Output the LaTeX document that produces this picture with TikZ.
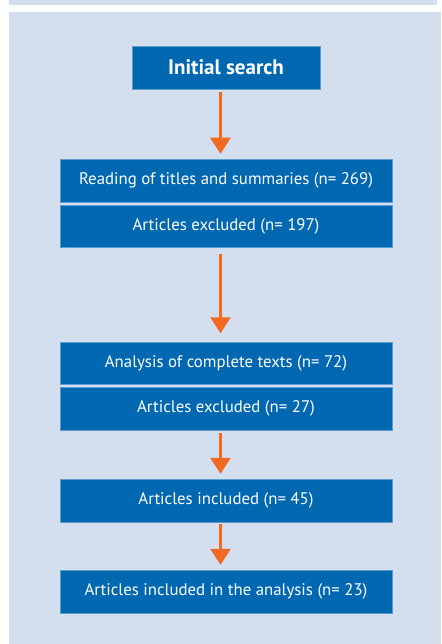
\documentclass[tikz,border=0pt]{standalone}
\usepackage{fontspec}
\setmainfont{PT Sans}
\usetikzlibrary{arrows.meta}
\definecolor{panel}{HTML}{D3DEEE}
\definecolor{boxblue}{HTML}{0067B1}
\definecolor{boxedge}{HTML}{5E9BD0}
\definecolor{arrorange}{HTML}{F26A21}
\tikzset{
  flowbox/.style={fill=boxblue, draw=boxedge, line width=0.5pt, text=white,
    minimum width=332pt, inner sep=0pt, font=\fontsize{16.8}{19}\selectfont},
  titlebox/.style={flowbox, minimum width=188pt, minimum height=43pt,
    font=\fontsize{21}{24}\selectfont\bfseries},
  flowarrow/.style={draw=arrorange, line width=2.7pt,
    -{Triangle[width=20pt,length=16pt]}, arrorange}
}
\begin{document}
\begin{tikzpicture}[x=1pt,y=-1pt]
\useasboundingbox (0,0) rectangle (441,644);
\fill[white] (0,0) rectangle (441,644);
\fill[panel] (9,0) rectangle (437,5);
\fill[panel] (9,12) rectangle (441,644);

\node[titlebox] (init) at (226,67.5) {Initial search};
\node[flowbox, minimum height=43pt] (read) at (226,180.5) {Reading of titles and summaries (n= 269)};
\node[flowbox, minimum height=42pt] (excl1) at (226,226) {Articles excluded (n= 197)};
\node[flowbox, minimum height=42pt] (anal) at (226,363) {Analysis of complete texts (n= 72)};
\node[flowbox, minimum height=43pt] (excl2) at (226,408.5) {Articles excluded (n= 27)};
\node[flowbox, minimum height=43pt] (incl) at (226,500.5) {Articles included (n= 45)};
\node[flowbox, minimum height=43pt] (final) at (226,591.5) {Articles included in the analysis (n= 23)};

\coordinate (a1s) at ([xshift=-5.5pt,yshift=-3pt]init.south);
\coordinate (a1e) at ([xshift=-5.5pt,yshift=5pt]read.north);
\coordinate (a2s) at ([xshift=-5.5pt,yshift=-7pt]excl1.south);
\coordinate (a2e) at ([xshift=-5.5pt,yshift=8.5pt]anal.north);
\coordinate (a3s) at ([xshift=-5.5pt,yshift=-3pt]excl2.south);
\coordinate (a3e) at ([xshift=-5.5pt,yshift=5pt]incl.north);
\coordinate (a4s) at ([xshift=-5.5pt,yshift=-2pt]incl.south);
\coordinate (a4e) at ([xshift=-5.5pt,yshift=5pt]final.north);

\draw[flowarrow] (a1s) -- (a1e);
\draw[flowarrow] (a2s) -- (a2e);
\draw[flowarrow] (a3s) -- (a3e);
\draw[flowarrow] (a4s) -- (a4e);
\end{tikzpicture}
\end{document}
